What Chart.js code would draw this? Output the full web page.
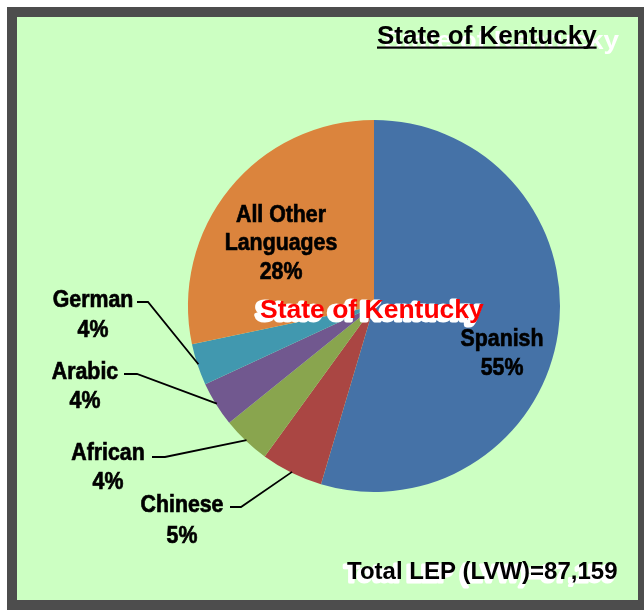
<!DOCTYPE html>
<html>
<head>
<meta charset="utf-8">
<script src="https://cdn.jsdelivr.net/npm/chart.js@4/dist/chart.umd.min.js"></script>
<style>
  html, body { margin: 0; padding: 0; background: #ffffff; width: 644px; height: 613px; overflow: hidden; }
  #frame { position: absolute; left: 7px; top: 7px; width: 621px; height: 583px; border: 10px solid #4d4d4d; background: #ccffc2; }
  #c { position: absolute; left: 0; top: 0; }
</style>
</head>
<body>
<div id="frame"></div>
<canvas id="c" width="644" height="613"></canvas>
<script>
// ---- data ----
const categories = ["Spanish", "Chinese", "African", "Arabic", "German", "All Other Languages"];
const labelLines = [["Spanish"], ["Chinese"], ["African"], ["Arabic"], ["German"], ["All Other", "Languages"]];
const shares = [54.6, 5.4, 4.2, 3.9, 3.6, 28.3];
const sliceColors = ["#4572a7", "#aa4643", "#89a54e", "#71588f", "#4198af", "#db843d"];
const titleText = "State of Kentucky";
const totalText = "Total LEP (LVW)=87,159";

// label placement (text centre x, first line centre y, line gap, optional leader line)
const labelPlace = [
  { x: 502, y: 339, gap: 29 },
  { x: 182, y: 505, gap: 31, lead: { x0: 230, x1: 241, y: 507 } },
  { x: 108, y: 453, gap: 29, lead: { x0: 152, x1: 165, y: 457 } },
  { x: 85,  y: 372, gap: 29, lead: { x0: 124, x1: 137, y: 374 } },
  { x: 93,  y: 300, gap: 30, lead: { x0: 137, x1: 148, y: 302 } },
  { x: 281, y: 215, gap: 28.5 }
];

function narrowText(ctx, txt, x, y, size, sx) {
  ctx.save();
  ctx.translate(x, y);
  ctx.scale(sx, 1);
  ctx.font = "bold " + size + "px 'Liberation Sans', Arial, sans-serif";
  ctx.textAlign = "center";
  ctx.textBaseline = "middle";
  ctx.lineWidth = 0.7;
  ctx.strokeStyle = "#000";
  ctx.fillText(txt, 0, 0);
  ctx.strokeText(txt, 0, 0);
  ctx.restore();
}

const labelPlugin = {
  id: "labels",
  afterDatasetsDraw(chart) {
    const ctx = chart.ctx;
    const meta = chart.getDatasetMeta(0);
    const total = shares.reduce((a, b) => a + b, 0);
    meta.data.forEach((arc, i) => {
      const p = arc.getProps(["x", "y", "startAngle", "endAngle", "outerRadius"], true);
      const mid = (p.startAngle + p.endAngle) / 2;
      const lp = labelPlace[i];
      if (lp.lead) {
        const ax = p.x + Math.cos(mid) * (p.outerRadius - 1);
        const ay = p.y + Math.sin(mid) * (p.outerRadius - 1);
        ctx.save();
        ctx.strokeStyle = "#000";
        ctx.lineWidth = 1.8;
        ctx.beginPath();
        ctx.moveTo(lp.lead.x0, lp.lead.y);
        ctx.lineTo(lp.lead.x1, lp.lead.y);
        ctx.lineTo(ax, ay);
        ctx.stroke();
        ctx.restore();
      }
      ctx.fillStyle = "#000";
      const lines = labelLines[i].concat([Math.round(shares[i] / total * 100) + "%"]);
      lines.forEach((t, k) => narrowText(ctx, t, lp.x, lp.y + k * lp.gap, 24.5, 0.87));
    });

    // centre red title
    ctx.save();
    ctx.font = "bold 26.5px 'Liberation Sans', Arial, sans-serif";
    ctx.textAlign = "left";
    ctx.textBaseline = "alphabetic";
    ctx.lineJoin = "round";
    ctx.strokeStyle = "#ffffff";
    ctx.fillStyle = "#ffffff";
    ctx.lineWidth = 5;
    ctx.strokeText(titleText, 256, 320);
    ctx.fillText(titleText, 256, 320);
    ctx.fillStyle = "#ff0000";
    ctx.fillText(titleText, 260, 318);
    ctx.restore();
  },
  afterDraw(chart) {
    const ctx = chart.ctx;
    // top-right title with white ghost
    ctx.save();
    ctx.font = "bold 26px 'Liberation Sans', Arial, sans-serif";
    ctx.textBaseline = "alphabetic";
    ctx.textAlign = "left";
    ctx.save();
    ctx.translate(384, 49);
    ctx.scale(1.07, 1);
    ctx.fillStyle = "#ffffff";
    ctx.fillText(titleText, 0, 0);
    ctx.restore();
    ctx.fillStyle = "#000";
    ctx.fillText(titleText, 377, 44);
    const w = ctx.measureText(titleText).width;
    ctx.fillRect(377, 46.5, w, 2.2);
    // total
    ctx.font = "bold 24px 'Liberation Sans', Arial, sans-serif";
    ctx.fillStyle = "#ffffff";
    ctx.strokeStyle = "#ffffff";
    ctx.lineWidth = 3;
    ctx.lineJoin = "round";
    ctx.strokeText(totalText, 344, 582);
    ctx.fillText(totalText, 344, 582);
    ctx.fillStyle = "#000";
    ctx.fillText(totalText, 347, 579);
    ctx.restore();
  }
};

new Chart(document.getElementById("c"), {
  type: "pie",
  data: {
    labels: categories,
    datasets: [{ data: shares, backgroundColor: sliceColors, borderWidth: 0 }]
  },
  options: {
    responsive: false,
    devicePixelRatio: 1,
    animation: false,
    layout: { padding: { left: 188, right: 84, top: 120, bottom: 121 } },
    plugins: { legend: { display: false }, tooltip: { enabled: false }, title: { display: false } }
  },
  plugins: [labelPlugin]
});
</script>
</body>
</html>
